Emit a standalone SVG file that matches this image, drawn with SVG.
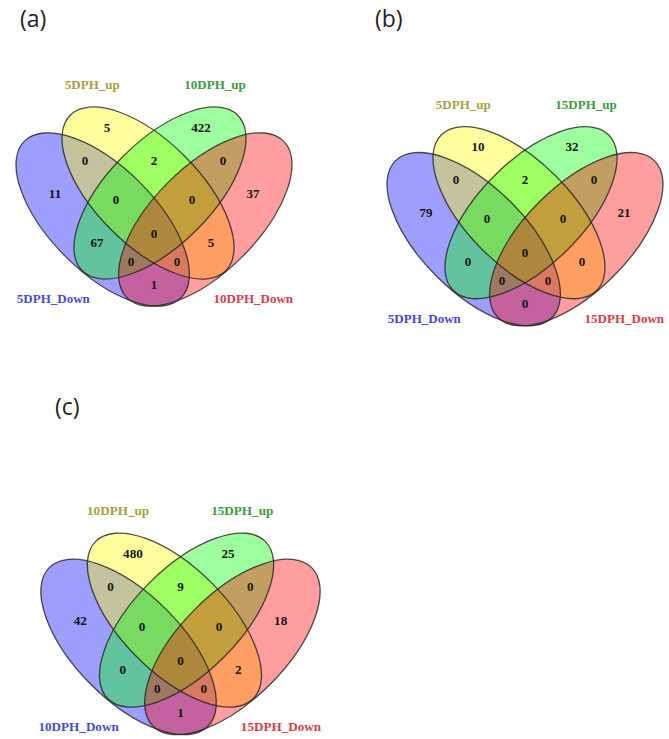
<svg xmlns="http://www.w3.org/2000/svg" xmlns:xlink="http://www.w3.org/1999/xlink" width="669" height="739" viewBox="0 0 669 739">
<style>
.num{font-family:"Liberation Serif","Times New Roman",serif;font-weight:bold;font-size:13px;fill:#151515;text-anchor:middle}
.cat{font-family:"Liberation Serif","Times New Roman",serif;font-weight:bold;font-size:13px;text-anchor:middle}
.up1{fill:#a8a040}.up2{fill:#3c9c3c}.dn1{fill:#4848dc}.dn2{fill:#d83c4c}
.plabel{font-family:"Open Sans","Noto Sans",sans-serif;font-size:23px;fill:#222}
.fillA{fill:#0000ff;fill-opacity:.38}.fillB{fill:#ffff00;fill-opacity:.38}.fillC{fill:#00ff00;fill-opacity:.38}.fillD{fill:#ff0000;fill-opacity:.38}
.edge{fill:none;stroke:#222;stroke-opacity:.8;stroke-width:1.3}
</style>
<defs>
<ellipse id="eA" cx="102.7" cy="219.5" rx="110.8" ry="52.5" transform="rotate(45 102.7 219.5)"/>
<ellipse id="eB" cx="148" cy="193" rx="110" ry="52" transform="rotate(45 148 193)"/>
<ellipse id="eC" cx="160" cy="193" rx="110" ry="52" transform="rotate(-45 160 193)"/>
<ellipse id="eD" cx="205.3" cy="219.5" rx="110.8" ry="52.5" transform="rotate(-45 205.3 219.5)"/>
<g id="venn">
<use xlink:href="#eA" class="fillA"/>
<use xlink:href="#eB" class="fillB"/>
<use xlink:href="#eC" class="fillC"/>
<use xlink:href="#eD" class="fillD"/>
<use xlink:href="#eA" class="edge"/>
<use xlink:href="#eB" class="edge"/>
<use xlink:href="#eC" class="edge"/>
<use xlink:href="#eD" class="edge"/>
</g>
</defs>

<g id="panel-a">
<text class="plabel" x="20" y="26.5">(a)</text>
<use xlink:href="#venn"/>
<g class="num">
<text x="55" y="197.5">11</text>
<text x="107" y="131.5">5</text>
<text x="201" y="131.5">422</text>
<text x="253" y="197.5">37</text>
<text x="85" y="164.5">0</text>
<text x="154" y="164.5">2</text>
<text x="223" y="164.5">0</text>
<text x="116" y="203.5">0</text>
<text x="192" y="203.5">0</text>
<text x="97" y="246.5">67</text>
<text x="154" y="237.5">0</text>
<text x="211" y="246.5">5</text>
<text x="131" y="265.5">0</text>
<text x="177" y="265.5">0</text>
<text x="154" y="288.5">1</text>
</g>
<text class="cat up1" x="92.3" y="89">5DPH_up</text>
<text class="cat up2" x="215" y="89">10DPH_up</text>
<text class="cat dn1" x="53.3" y="303">5DPH_Down</text>
<text class="cat dn2" x="253.3" y="303">10DPH_Down</text>
</g>

<g id="panel-b">
<text class="plabel" x="375" y="26.5">(b)</text>
<g transform="translate(371,19.7)">
<use xlink:href="#venn"/>
<g class="num">
<text x="55" y="197.5">79</text>
<text x="107" y="131.5">10</text>
<text x="201" y="131.5">32</text>
<text x="253" y="197.5">21</text>
<text x="85" y="164.5">0</text>
<text x="154" y="164.5">2</text>
<text x="223" y="164.5">0</text>
<text x="116" y="203.5">0</text>
<text x="192" y="203.5">0</text>
<text x="97" y="246.5">0</text>
<text x="154" y="237.5">0</text>
<text x="211" y="246.5">0</text>
<text x="131" y="265.5">0</text>
<text x="177" y="265.5">0</text>
<text x="154" y="288.5">0</text>
</g>
<text class="cat up1" x="92.3" y="89">5DPH_up</text>
<text class="cat up2" x="215" y="89">15DPH_up</text>
<text class="cat dn1" x="53.3" y="303">5DPH_Down</text>
<text class="cat dn2" x="253.3" y="303">15DPH_Down</text>
</g>
</g>

<g id="panel-c">
<text class="plabel" x="55" y="415">(c)</text>
<g transform="translate(180.5,627.2) scale(1.012) translate(-154,-200)">
<use xlink:href="#venn"/>
<g class="num">
<text x="55" y="197.5">42</text>
<text x="107" y="131.5">480</text>
<text x="201" y="131.5">25</text>
<text x="253" y="197.5">18</text>
<text x="85" y="164.5">0</text>
<text x="154" y="164.5">9</text>
<text x="223" y="164.5">0</text>
<text x="116" y="203.5">0</text>
<text x="192" y="203.5">0</text>
<text x="97" y="246.5">0</text>
<text x="154" y="237.5">0</text>
<text x="211" y="246.5">2</text>
<text x="131" y="265.5">0</text>
<text x="177" y="265.5">0</text>
<text x="154" y="288.5">1</text>
</g>
<text class="cat up1" x="92.3" y="89">10DPH_up</text>
<text class="cat up2" x="215" y="89">15DPH_up</text>
<text class="cat dn1" x="53.3" y="303">10DPH_Down</text>
<text class="cat dn2" x="253.3" y="303">15DPH_Down</text>
</g>
</g>
</svg>
